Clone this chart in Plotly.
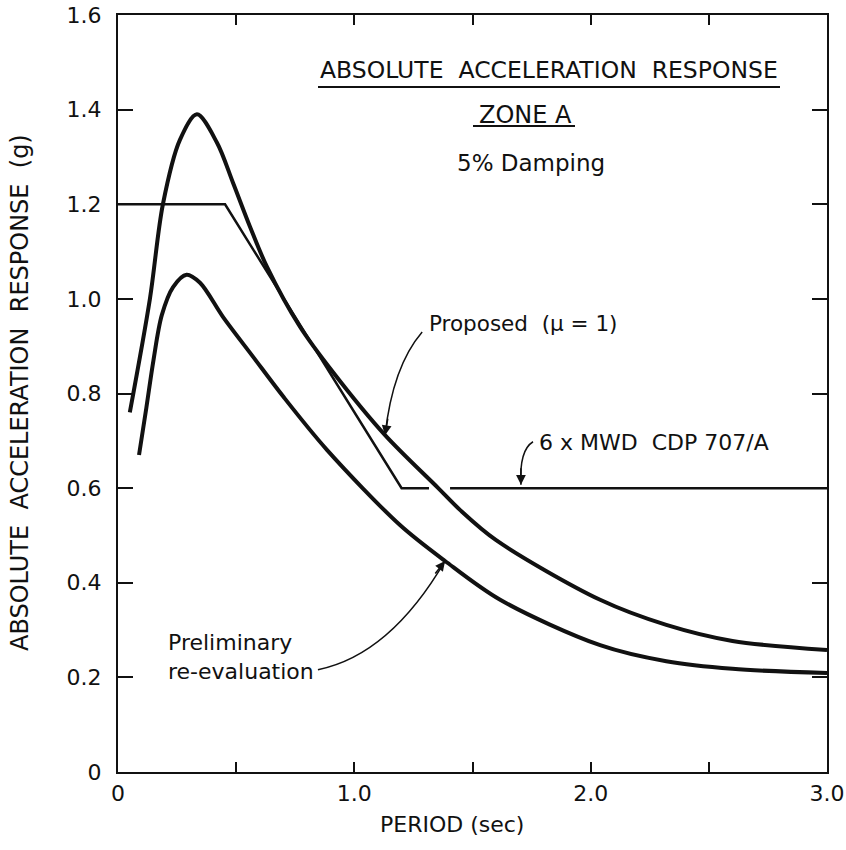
import plotly.graph_objects as go

# ---- data ----
proposed_period = [0.05, 0.135, 0.19, 0.262, 0.334, 0.419, 0.487, 0.559, 0.63,
                   0.77, 0.91, 1.13, 1.355, 1.447, 1.60, 2.04, 2.32, 2.6, 3.0]
proposed_acc = [0.76, 1.00, 1.20, 1.336, 1.39, 1.33, 1.245, 1.152, 1.068,
                0.941, 0.845, 0.712, 0.60, 0.554, 0.49, 0.364, 0.311, 0.277, 0.258]

prelim_period = [0.089, 0.12, 0.15, 0.185, 0.233, 0.29, 0.347, 0.444, 0.571, 0.70, 0.884,
                 1.193, 1.384, 1.617, 2.04, 2.32, 2.6, 3.0]
prelim_acc = [0.67, 0.77, 0.87, 0.965, 1.025, 1.051, 1.034, 0.962, 0.878, 0.793, 0.681,
              0.522, 0.446, 0.364, 0.268, 0.234, 0.218, 0.209]

mwd_period = [0.0, 0.453, 1.2, 1.316, None, 1.405, 3.0]
mwd_acc = [1.2, 1.2, 0.6, 0.6, None, 0.6, 0.6]

x_tickvals = [0, 0.5, 1.0, 1.5, 2.0, 2.5, 3.0]
x_ticktext = ["0", "", "1.0", "", "2.0", "", "3.0"]
y_tickvals = [0, 0.2, 0.4, 0.6, 0.8, 1.0, 1.2, 1.4, 1.6]
y_ticktext = ["0", "0.2", "0.4", "0.6", "0.8", "1.0", "1.2", "1.4", "1.6"]

FONT = "DejaVu Sans"
INK = "#111111"

fig = go.Figure()
fig.add_trace(go.Scatter(x=proposed_period, y=proposed_acc, mode="lines",
                         line=dict(color=INK, width=4, shape="spline", smoothing=0.9),
                         showlegend=False, hoverinfo="skip"))
fig.add_trace(go.Scatter(x=prelim_period, y=prelim_acc, mode="lines",
                         line=dict(color=INK, width=4, shape="spline", smoothing=0.9),
                         showlegend=False, hoverinfo="skip"))
fig.add_trace(go.Scatter(x=mwd_period, y=mwd_acc, mode="lines",
                         line=dict(color=INK, width=2.5), connectgaps=False,
                         showlegend=False, hoverinfo="skip"))

# curved leader lines (quadratic curves in data coords)
leaders = [
    ((1.287, 0.930), (1.162, 0.857), (1.130, 0.712)),
    ((1.756, 0.698), (1.697, 0.680), (1.705, 0.607)),
    ((0.846, 0.216), (1.151, 0.247), (1.384, 0.446)),
]
for p0, c, p2 in leaders:
    fig.add_shape(type="path",
                  path=f"M {p0[0]},{p0[1]} Q {c[0]},{c[1]} {p2[0]},{p2[1]}",
                  line=dict(color=INK, width=1.5), xref="x", yref="y")

arrow_tips = [((1.130, 0.712), (3, -18)), ((1.705, 0.607), (0, -18)), ((1.384, 0.446), (-11, 14))]
for (tx, ty), (ax, ay) in arrow_tips:
    fig.add_annotation(x=tx, y=ty, ax=ax, ay=ay, axref="pixel", ayref="pixel",
                       text="", showarrow=True, arrowhead=2, arrowsize=1.3,
                       arrowwidth=1.5, arrowcolor=INK, standoff=0)


def px_x(p):
    return (p - 118) / 709


def px_y(p):
    return (772 - p) / 757


# text labels
fig.add_annotation(x=px_x(549), y=px_y(70), xref="paper", yref="paper",
                   text="ABSOLUTE\u00a0\u00a0ACCELERATION\u00a0\u00a0RESPONSE",
                   showarrow=False, font=dict(family=FONT, size=23.5, color=INK),
                   xanchor="center", yanchor="middle")
fig.add_shape(type="line", xref="paper", yref="paper",
              x0=px_x(318), x1=px_x(780), y0=px_y(87), y1=px_y(87),
              line=dict(color=INK, width=2))
fig.add_annotation(x=px_x(525), y=px_y(115), xref="paper", yref="paper",
                   text="ZONE\u00a0A", showarrow=False,
                   font=dict(family=FONT, size=24, color=INK),
                   xanchor="center", yanchor="middle")
fig.add_shape(type="line", xref="paper", yref="paper",
              x0=px_x(473), x1=px_x(575), y0=px_y(126), y1=px_y(126),
              line=dict(color=INK, width=2))
fig.add_annotation(x=px_x(531), y=px_y(163), xref="paper", yref="paper",
                   text="5%\u00a0Damping", showarrow=False,
                   font=dict(family=FONT, size=23, color=INK),
                   xanchor="center", yanchor="middle")
fig.add_annotation(x=px_x(427), y=px_y(323), xref="paper", yref="paper",
                   text="Proposed\u00a0\u00a0(\u03bc\u00a0=\u00a01)", showarrow=False,
                   font=dict(family=FONT, size=21.5, color=INK),
                   xanchor="left", yanchor="middle")
fig.add_annotation(x=px_x(537), y=px_y(442), xref="paper", yref="paper",
                   text="6\u00a0x\u00a0MWD\u00a0\u00a0CDP\u00a0707/A", showarrow=False,
                   font=dict(family=FONT, size=22, color=INK),
                   xanchor="left", yanchor="middle")
fig.add_annotation(x=px_x(166), y=px_y(657), xref="paper", yref="paper",
                   text="Preliminary<br>re-evaluation", showarrow=False, align="left",
                   font=dict(family=FONT, size=22, color=INK),
                   xanchor="left", yanchor="middle")

# axis titles
fig.add_annotation(x=px_x(20), y=px_y(393), xref="paper", yref="paper",
                   text="ABSOLUTE\u00a0\u00a0ACCELERATION\u00a0\u00a0RESPONSE\u00a0\u00a0(g)",
                   textangle=-90, showarrow=False,
                   font=dict(family=FONT, size=24, color=INK),
                   xanchor="center", yanchor="middle")
fig.add_annotation(x=px_x(452), y=px_y(824), xref="paper", yref="paper",
                   text="PERIOD\u00a0(sec)", showarrow=False,
                   font=dict(family=FONT, size=22, color=INK),
                   xanchor="center", yanchor="middle")

fig.update_xaxes(range=[0, 3.0], tickvals=x_tickvals, ticktext=x_ticktext,
                 ticks="inside", ticklen=10, tickwidth=2, tickcolor=INK,
                 showline=True, linewidth=2, linecolor=INK, mirror="ticks",
                 showgrid=False, zeroline=False, ticklabelstandoff=1, automargin=False,
                 tickfont=dict(family=FONT, size=22, color=INK))
fig.update_yaxes(range=[0, 1.6], tickvals=y_tickvals, ticktext=y_ticktext,
                 ticks="inside", ticklen=15, tickwidth=2, tickcolor=INK,
                 showline=True, linewidth=2, linecolor=INK, mirror="ticks",
                 showgrid=False, zeroline=False, ticklabelstandoff=10, automargin=False,
                 tickfont=dict(family=FONT, size=22, color=INK))

fig.update_layout(width=846, height=850, plot_bgcolor="white", paper_bgcolor="white",
                  margin=dict(l=118, r=19, t=15, b=78, autoexpand=False), showlegend=False)

fig.write_html("out.html", config={"displayModeBar": False},
               post_script="document.body.style.margin='0px';")
